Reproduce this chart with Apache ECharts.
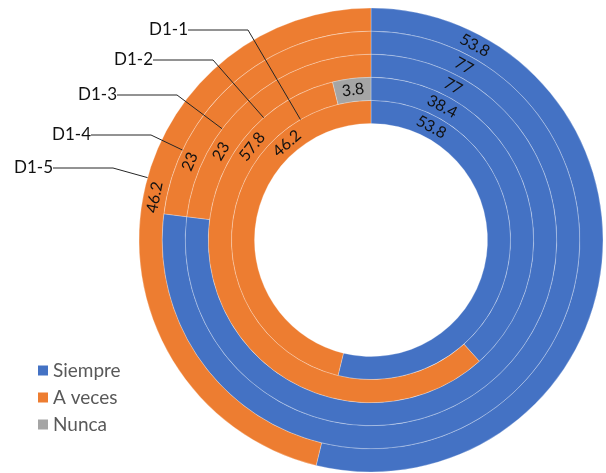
<!DOCTYPE html>
<html>
<head>
<meta charset="utf-8">
<script src="https://cdn.jsdelivr.net/npm/echarts@6/dist/echarts.min.js"></script>
<style>
html,body{margin:0;padding:0;background:#ffffff;}
#c{width:606px;height:473px;}
</style>
</head>
<body>
<div id="c"></div>
<script>
// ---- data ----
const rings = ['D1-1', 'D1-2', 'D1-3', 'D1-4', 'D1-5'];   // inner -> outer
const seriesNames = ['Siempre', 'A veces', 'Nunca'];
const siempre = [53.8, 38.4, 77, 77, 53.8];
const aVeces  = [46.2, 57.8, 23, 23, 46.2];
const nunca   = [0, 3.8, 0, 0, 0];

// ---- label placement (percent of the turn, clockwise from 12 o'clock) ----
const siempreLabelAt = 7.8;
const aVecesLabelAt = [88.6, 85.6, 83.5, 81.5, 78.1];
// callout text anchors (right edge / vertical middle, px)
const calloutAt = [[188, 30], [153, 60], [117, 95], [91, 135], [53, 168]];

const colors = ['#4472C4', '#ED7D31', '#A5A5A5'];
const FONT = 'Lato, "Open Sans", sans-serif';
const chart = echarts.init(document.getElementById('c'), null, {renderer: 'canvas'});

function placeOnRing(ringIdx, pct) {
  const p = chart.convertToPixel({polarIndex: 0}, [ringIdx, pct]);
  return {x: p[0], y: p[1], rotate: -pct * 3.6, align: 'center', verticalAlign: 'middle'};
}

const ringGeom = {center: [371, 240], radius: [116.5, 232]};
const valueLabel = {
  show: true,
  color: '#111',
  fontSize: 16,
  fontFamily: FONT,
  formatter: p => (p.value ? String(p.value) : '')
};
const ringBorder = {borderColor: 'rgba(255,255,255,0.45)', borderWidth: 0.6};

const option = {
  animation: false,
  backgroundColor: '#ffffff',
  polar: [ringGeom, ringGeom],
  angleAxis: [
    {polarIndex: 0, type: 'value', min: 0, max: 100, startAngle: 90, clockwise: true, show: false},
    {polarIndex: 1, type: 'value', min: 0, max: 100, startAngle: 90, clockwise: true, show: false}
  ],
  radiusAxis: [
    {polarIndex: 0, type: 'category', data: rings, show: false},
    {polarIndex: 1, type: 'category', data: rings, show: false}
  ],
  legend: {
    data: seriesNames,
    orient: 'vertical',
    left: 38,
    top: 361,
    padding: 0,
    itemWidth: 10,
    itemHeight: 10,
    itemGap: 8,
    icon: 'rect',
    selectedMode: false,
    itemStyle: {borderWidth: 0},
    textStyle: {fontSize: 19, color: '#595959', fontFamily: FONT}
  },
  series: [
    {
      type: 'bar', name: seriesNames[0], coordinateSystem: 'polar', polarIndex: 0,
      stack: 'total', barCategoryGap: '0%', data: siempre,
      itemStyle: Object.assign({color: colors[0]}, ringBorder),
      label: valueLabel,
      labelLayout: p => placeOnRing(p.dataIndex, siempreLabelAt)
    },
    {
      // orange rings; their label is the ring-name callout with a leader line
      type: 'bar', name: seriesNames[1], coordinateSystem: 'polar', polarIndex: 0,
      stack: 'total', barCategoryGap: '0%', data: aVeces,
      itemStyle: Object.assign({color: colors[1]}, ringBorder),
      label: {
        show: true, color: '#111', fontSize: 17, fontFamily: FONT,
        formatter: p => p.name, padding: [0, 0, 0, 24]
      },
      labelLine: {show: true, showAbove: true, length2: 60, lineStyle: {color: '#262626', width: 1}},
      labelLayout: p => ({
        x: calloutAt[p.dataIndex][0], y: calloutAt[p.dataIndex][1],
        align: 'right', verticalAlign: 'middle', rotate: 0
      })
    },
    {
      type: 'bar', name: seriesNames[2], coordinateSystem: 'polar', polarIndex: 0,
      stack: 'total', barCategoryGap: '0%', data: nunca,
      itemStyle: Object.assign({color: colors[2]}, ringBorder),
      label: valueLabel,
      labelLayout: p => placeOnRing(p.dataIndex,
        siempre[p.dataIndex] + aVeces[p.dataIndex] + nunca[p.dataIndex] / 2)
    },
    // transparent copy of the rings carrying the "A veces" value labels
    {
      type: 'bar', name: 'copy-base', coordinateSystem: 'polar', polarIndex: 1,
      stack: 'copy', barCategoryGap: '0%', data: siempre, silent: true,
      itemStyle: {color: 'rgba(0,0,0,0)', borderWidth: 0},
      label: {show: false}
    },
    {
      type: 'bar', name: 'copy-aveces', coordinateSystem: 'polar', polarIndex: 1,
      stack: 'copy', barCategoryGap: '0%', data: aVeces, silent: true,
      itemStyle: {color: 'rgba(0,0,0,0)', borderWidth: 0},
      label: valueLabel,
      labelLayout: p => placeOnRing(p.dataIndex, aVecesLabelAt[p.dataIndex])
    }
  ]
};
chart.setOption(option);
</script>
</body>
</html>
